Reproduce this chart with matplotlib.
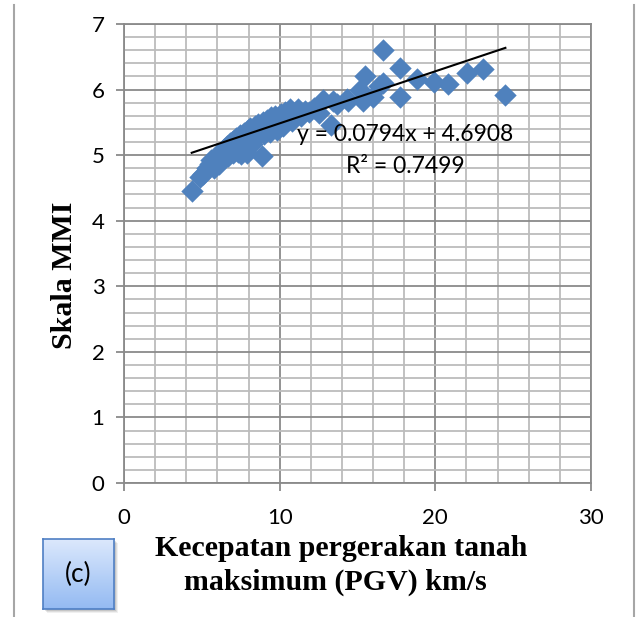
import numpy as np
import matplotlib
matplotlib.use("Agg")
import matplotlib.pyplot as plt
from matplotlib.patches import Rectangle
from matplotlib.lines import Line2D

# PGV (km/s) against MMI scale
pgv = [4.35, 4.9, 5.1, 5.3, 5.5, 5.6, 5.75, 5.9, 6.0, 6.1, 6.2, 6.3, 6.4, 6.5,
       6.6, 6.7, 6.8, 6.9, 7.0, 7.0, 7.1, 7.2, 7.3, 7.35, 7.45, 7.5, 7.6, 7.7,
       7.8, 7.9, 7.95, 8.0, 8.1, 8.2, 8.3, 8.4, 8.5, 8.6, 8.7, 8.84, 8.9, 9.0,
       9.1, 9.2, 9.35, 9.45, 9.6, 9.7, 9.8, 9.95, 10.1, 10.2, 10.35, 10.5,
       10.65, 10.8, 11.0, 11.2, 11.4, 11.6, 11.9, 12.2, 12.5, 12.8, 13.3,
       13.45, 13.66, 14.3, 14.4, 15.16, 15.37, 15.48, 16.0, 16.4, 16.66,
       16.66, 17.7, 17.7, 18.85, 19.9, 20.83, 22.05, 23.06, 24.5]
mmi = [4.46, 4.66, 4.72, 4.80, 4.86, 4.92, 4.81, 4.95, 5.00, 4.86, 5.05, 4.92,
       5.10, 5.00, 5.14, 4.98, 5.18, 5.08, 5.22, 5.04, 5.12, 5.26, 5.05, 5.18,
       5.30, 5.02, 5.22, 5.34, 5.10, 5.04, 5.38, 5.25, 5.42, 5.17, 5.32, 5.45,
       5.28, 5.48, 5.38, 4.98, 5.50, 5.32, 5.42, 5.54, 5.36, 5.58, 5.46, 5.60,
       5.38, 5.52, 5.62, 5.44, 5.66, 5.55, 5.70, 5.52, 5.64, 5.70, 5.60, 5.68,
       5.66, 5.72, 5.64, 5.84, 5.46, 5.82, 5.78, 5.86, 5.82, 6.00, 5.82, 6.20,
       5.89, 6.05, 6.10, 6.61, 6.33, 5.89, 6.16, 6.12, 6.08, 6.26, 6.31, 5.92]

slope, intercept = 0.0794, 4.6908
r_squared = 0.7499

x_ticks = [0, 10, 20, 30]
y_ticks = [0, 1, 2, 3, 4, 5, 6, 7]

W, H = 638, 617
fig = plt.figure(figsize=(W / 100, H / 100), dpi=100)
ax = fig.add_axes([124 / W, (H - 483) / H, 467 / W, 459 / H])

blue = "#4f81bd"
major_c = "#8a8a8a"
minor_c = "#bcbcbc"

ax.scatter(pgv, mmi, marker="D", s=130, color=blue, linewidths=0, zorder=3)

xs = np.array([min(pgv), max(pgv)])
ax.plot(xs, slope * xs + intercept, color="black", lw=1.5, zorder=4)

lbl_font = dict(family="Lato", size=16.5, color="black")
ax.text(18.05, 5.21, f"y = {slope}x + {intercept}", ha="center",
        va="baseline", zorder=5, **lbl_font)
ax.text(18.05, 4.73, f"R² = {r_squared}", ha="center", va="baseline",
        zorder=5, **lbl_font)

ax.set_xlim(0, 30)
ax.set_ylim(0, 7)
ax.set_xticks(x_ticks)
ax.set_yticks(y_ticks)
ax.set_xticks(np.arange(0, 31, 2), minor=True)
ax.set_yticks(np.arange(0, 7.01, 0.2), minor=True)
ax.grid(which="minor", color=minor_c, lw=1.3)
ax.grid(which="major", color=major_c, lw=1.3)
ax.set_axisbelow(True)

for side in ["left", "bottom", "top", "right"]:
    ax.spines[side].set_color(major_c)
    ax.spines[side].set_linewidth(1.3)

ax.tick_params(which="major", direction="out", length=6, width=1.3,
               color=major_c, labelsize=16)
ax.tick_params(which="minor", length=0)
ax.tick_params(axis="x", pad=12)
ax.tick_params(axis="y", pad=8)
for t in ax.get_xticklabels() + ax.get_yticklabels():
    t.set_family("Lato")

title_font = dict(ha="center", va="baseline", family="Liberation Serif",
                  weight="bold", size=21.5)
fig.text(341 / W, 1 - 556 / H, "Kecepatan pergerakan tanah", **title_font)
fig.text(335 / W, 1 - 590 / H, "maksimum (PGV) km/s", **title_font)
fig.text(65 / W, 1 - 275 / H, "Skala MMI", rotation=90, ha="center",
         va="center", family="Liberation Serif", weight="bold", size=21.5)

# page border lines on both sides
for xp in [14, 634]:
    fig.add_artist(Line2D([xp / W, xp / W], [0, 1 - 5 / H],
                          color="#a6a6a6", lw=1.5))

# panel tag "(c)" with soft shadow and gradient fill
bx0, by0, bx1, by1 = 43, 539, 114, 609
for i, a in enumerate([0.06, 0.08, 0.10]):
    off = 4 - i
    fig.add_artist(Rectangle(((bx0 + off) / W, 1 - (by1 + off) / H),
                             (bx1 - bx0) / W, (by1 - by0) / H,
                             color="black", alpha=a, lw=0, zorder=-1))
tag = fig.add_axes([bx0 / W, 1 - by1 / H, (bx1 - bx0) / W, (by1 - by0) / H])
tag.set_zorder(5)
grad = np.linspace(0, 1, 64).reshape(-1, 1)
top = np.array([0.86, 0.91, 0.99])
bot = np.array([0.58, 0.73, 0.95])
img = top + (bot - top) * grad[:, :, None]
tag.imshow(img, aspect="auto", extent=[0, 1, 0, 1])
tag.set_xticks([])
tag.set_yticks([])
for s in tag.spines.values():
    s.set_color("#4f7fc4")
    s.set_linewidth(1.2)
tag.text(0.5, 0.5, "(c)", ha="center", va="center", family="Lato", size=19)

fig.savefig("out.png", dpi=100)
